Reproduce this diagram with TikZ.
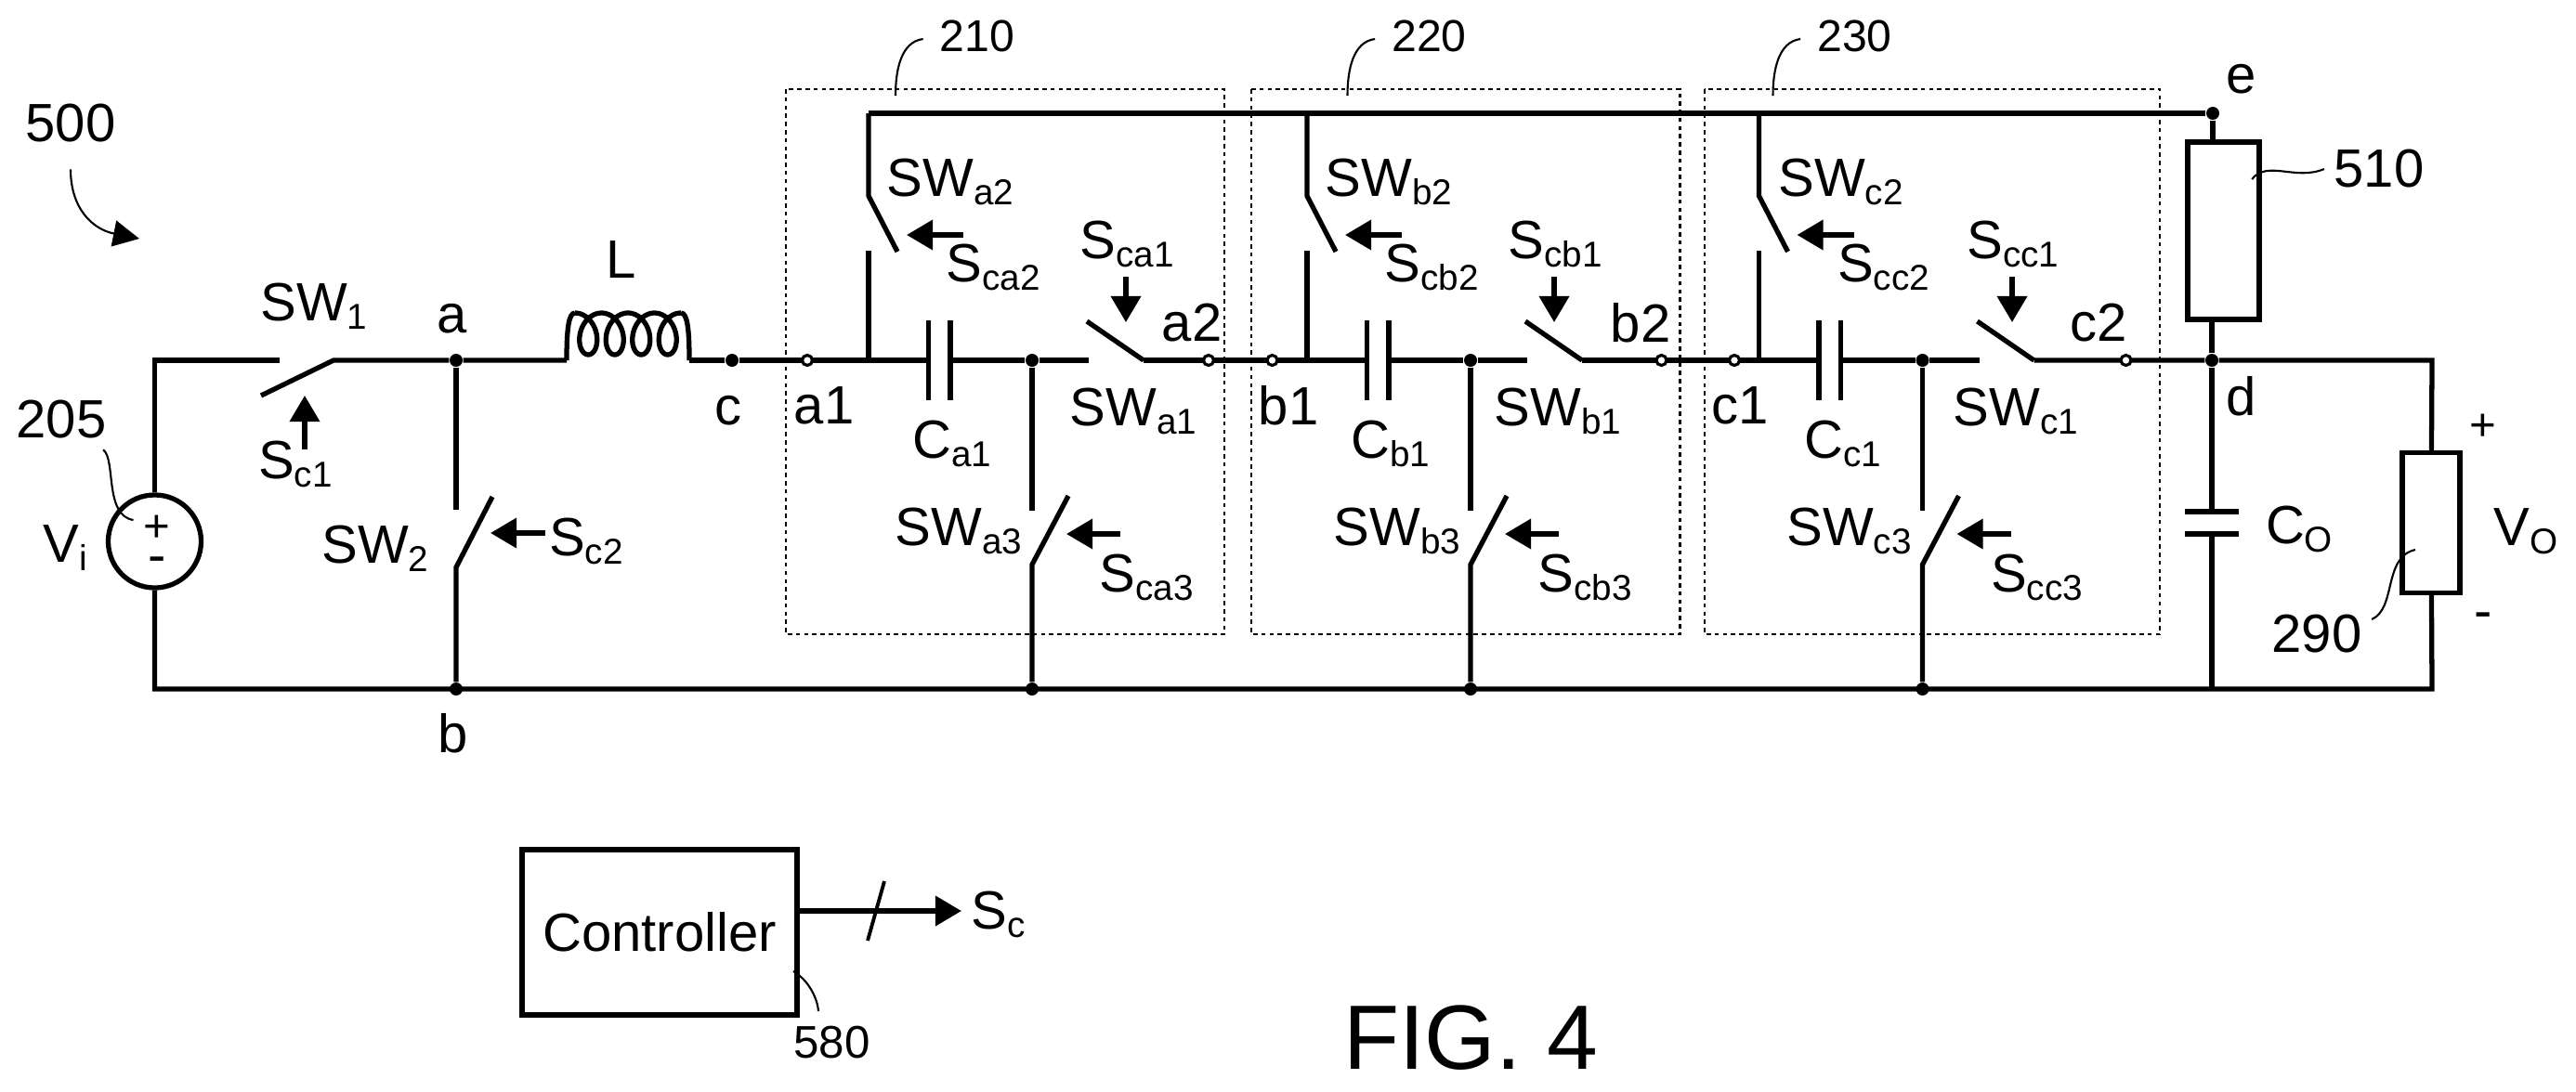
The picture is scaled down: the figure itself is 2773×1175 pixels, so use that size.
\documentclass[tikz,border=0pt]{standalone}
\usepackage{fontspec}
\setmainfont{Liberation Sans}
\usetikzlibrary{arrows.meta}

\newcommand{\lowtxt}[1]{\raisebox{-.15em}{\fontsize{11}{12}\selectfont #1}}

\tikzset{
   wire/.style={line width=1.5pt},
   ctrl/.style={line width=1.5pt,-{Triangle[length=8pt,width=9pt]}},
   lead/.style={line width=.6pt},
   modbox/.style={line width=.6pt,dash pattern=on 1.3pt off 1.2pt},
   dot/.style={circle,fill=black,inner sep=0,minimum size=.14cm},
   tap/.style={circle,draw,fill=white,line width=.9pt,inner sep=0,minimum size=.11cm},
   part/.style={draw,line width=1.5pt,inner sep=0},
   lbl/.style={inner sep=0,font=\fontsize{16.5}{18}\selectfont},
}

\begin{document}
\begin{tikzpicture}[x=.01cm,y=-.01cm]
   \useasboundingbox (0,0) rectangle (2773,1175);

   \node[part,circle,minimum size=1cm] (Vsrc) at (166.5,583) {};
   \node[lbl,font=\fontsize{14}{16}\selectfont] (plus) at (169,569) {+};
   \node[lbl] (minus) at (169,609) {-};
   \node[lbl] (Vi) at (70,590) {V\lowtxt{i}};
   \node[lbl] (n205) at (66,452) {205};
   \node[lbl] (n500) at (76,133) {500};

   \coordinate (tl) at (166.5,388);
   \coordinate (bl) at (166.5,742);
   \coordinate (br) at (2618,742);
   \coordinate (tr) at (2618,388);

   \node[dot] (a) at (491,388) {};
   \node[dot] (b) at (491,742) {};
   \node[dot] (c) at (788,388) {};
   \node[dot] (d) at (2381,388) {};
   \node[dot] (e) at (2382,122) {};
   \node[lbl] (la) at (487,343) {a};
   \node[lbl] (lb) at (488,790) {b};
   \node[lbl] (lc) at (784,442) {c};
   \node[lbl] (ld) at (2413,427) {d};
   \node[lbl] (le) at (2413,85) {e};

   \coordinate (sw1in) at (301,388);
   \coordinate (sw1arm) at (281,426);
   \coordinate (sw1out) at (359,388);
   \node[lbl] (SW1) at (338,330) {SW\lowtxt{1}};
   \node[lbl] (Sc1) at (318,500) {S\lowtxt{c1}};
   \coordinate (sc1a) at (328,484);
   \coordinate (sc1b) at (328,426);

   \coordinate (sw2in) at (491,549);
   \coordinate (sw2arm) at (530,535);
   \coordinate (sw2out) at (491,611);
   \node[lbl] (SW2) at (404,591) {SW\lowtxt{2}};
   \node[lbl] (Sc2) at (631,583) {S\lowtxt{c2}};
   \coordinate (sc2a) at (587,574);
   \coordinate (sc2b) at (528,574);

   \coordinate (Lin) at (610,388);
   \coordinate (Lout) at (742,388);
   \node[lbl] (L) at (669,280) {L};

   \draw[lead] ([xshift=-.04cm,yshift=-.11cm]n205.south east) .. controls (125,495) and (112,555) .. (143.5,560);
   \draw[lead,-{Triangle[length=8pt,width=8pt]}] ([yshift=-.28cm]n500.south) .. controls (76,225) and (100,247) .. (150,257);

   \foreach \m/\off/\bl/\br/\lx/\num/\tin/\tout/\tinx/\toutx/\swx/\scx in {
      a/0/846/1318/964/210/869/1301/887/1283/1220/1213,
      b/472/1347/1808.5/1450.5/220/1369.5/1788.5/1387/1766/1677/1674,
      c/958.5/1835/2325/1908.5/230/1867/2288.5/1873/2259/2170/2167}
   {
      \draw[modbox] (\bl,96) rectangle (\br,683);
      \node[lbl,font=\fontsize{13.7}{15}\selectfont] (num\m) at (\lx+88,39) {\num};
      \coordinate (lead\m) at (\lx,103);
      \draw[lead] ([xshift=-.175cm,yshift=-.03cm]num\m.west) .. controls (\lx+6,45) and (\lx,75) .. (lead\m);

      \coordinate (rail\m) at (\off+935,122);
      \coordinate (sw2a\m) at (\off+935,211);
      \coordinate (arm2\m) at (\off+966,271);
      \coordinate (sw2b\m) at (\off+935,270);
      \coordinate (br\m) at (\off+935,388);
      \coordinate (capl\m) at (\off+999.5,388);
      \coordinate (capr\m) at (\off+1023,388);
      \node[dot] (j\m) at (\off+1111,388) {};
      \node[dot] (bot\m) at (\off+1111,742) {};
      \coordinate (sw1a\m) at (\off+1172,388);
      \coordinate (arm1\m) at (\off+1170,346);
      \coordinate (sw1b\m) at (\off+1231,388);
      \coordinate (sw3a\m) at (\off+1111,550);
      \coordinate (arm3\m) at (\off+1150,534);
      \coordinate (sw3b\m) at (\off+1111,608);

      \draw[wire] (rail\m) -- (sw2a\m) -- (arm2\m);
      \draw[wire] (sw2b\m) -- (br\m);
      \draw[wire] (\off+999.5,345) -- (\off+999.5,431);
      \draw[wire] (\off+1023,345) -- (\off+1023,431);
      \draw[wire] (capr\m) -- (j\m) -- (sw1a\m);
      \draw[wire] (arm1\m) -- (sw1b\m);
      \draw[wire] (j\m) -- (sw3a\m);
      \draw[wire] (arm3\m) -- (sw3b\m) -- (bot\m);

      \draw[ctrl] (\off+1037,253) -- (\off+976,253);
      \draw[ctrl] (\scx-1,298) -- (\scx-1,347);
      \draw[ctrl] (\off+1206,575) -- (\off+1148,575);

      \node[lbl] (SW\m2) at (\off+1023,196) {SW\lowtxt{\m2}};
      \node[lbl] (Sc\m2) at (\off+1069,288) {S\lowtxt{c\m2}};
      \node[lbl] (Sc\m1) at (\scx,263) {S\lowtxt{c\m1}};
      \node[lbl] (SW\m1) at (\swx,443) {SW\lowtxt{\m1}};
      \node[lbl] (C\m1) at (\off+1025,478) {C\lowtxt{\m1}};
      \node[lbl] (SW\m3) at (\off+1032,572) {SW\lowtxt{\m3}};
      \node[lbl] (Sc\m3) at (\off+1234,622) {S\lowtxt{c\m3}};
      \node[lbl] (l\m1) at (\tinx,437) {\m1};
      \node[lbl] (l\m2) at (\toutx,348) {\m2};
      \coordinate (tap\m1) at (\tin,388);
      \coordinate (tap\m2) at (\tout,388);
   }

   \node[part,minimum width=.77cm,minimum height=1.91cm] (R510) at (2393.5,248.5) {};
   \node[part,minimum width=.62cm,minimum height=1.505cm] (Rload) at (2617,563) {};
   \node[lbl] (n510) at (2561,182) {510};
   \node[lbl] (n290) at (2494,683) {290};
   \node[lbl] (Vo) at (2719,572) {V\lowtxt{O}};
   \node[lbl] (Co) at (2475,570) {C\lowtxt{O}};
   \node[lbl,font=\fontsize{14}{16}\selectfont] (pl) at (2673,460) {+};
   \node[lbl] (mi) at (2673,669) {-};

   \coordinate (cot) at (2381,551);
   \coordinate (cob) at (2381,575);
   \coordinate (botd) at (2381,742);
   \coordinate (t510) at (2424,193);
   \coordinate (t290) at (2600,592);

   \draw[wire] (Vsrc) -- (tl) -- (sw1in);
   \draw[wire] (sw1arm) -- (sw1out) -- (a) -- (Lin);
   \draw[wire] (a) -- (sw2in);
   \draw[wire] (sw2arm) -- (sw2out) -- (b);
   \draw[wire] (Vsrc) -- (bl) -- (br) -- (Rload);
   \draw[wire] (Lin) .. controls (610,355) and (612,337) .. (619,337);
   \draw[wire] plot[domain=0:1440,samples=160,smooth] ({619+\x/360*28.5+16*sin(\x)},{359.5-22.5*cos(\x)});
   \draw[wire] (733,337) .. controls (740,337) and (742,355) .. (Lout);
   \draw[wire] (Lout) -- (c) -- (capla);
   \draw[wire] (sw1ba) -- (caplb);
   \draw[wire] (sw1bb) -- (caplc);
   \draw[wire] (sw1bc) -- (d) -- (tr) -- (Rload);
   \draw[wire] (raila) -- (e);
   \draw[wire] (e) -- (e |- R510.north);
   \draw[wire] (d |- R510.south) -- (d);
   \draw[wire] (d) -- (cot);
   \draw[wire] (cob) -- (botd);
   \draw[wire] (2352,551) -- (2410,551);
   \draw[wire] (2352,575) -- (2410,575);

   \draw[ctrl] (sc1a) -- (sc1b);
   \draw[ctrl] (sc2a) -- (sc2b);
   \draw[lead] ([xshift=-.1cm]n510.west) .. controls (2471,195) and (2441,172) .. (t510);
   \draw[lead] ([xshift=.1cm,yshift=.16cm]n290.east) .. controls (2580,655) and (2565,600) .. (t290);

   \foreach \t in {a1,a2,b1,b2,c1,c2}
   \node[tap] at (tap\t) {};

   \node[part,minimum width=2.96cm,minimum height=1.78cm,font=\fontsize{16.5}{18}\selectfont] (Ctl) at (710,1004) {Controller};
   \node[lbl] (Sc) at (1075,985) {S\lowtxt{c}};
   \node[lbl,font=\fontsize{14}{16}\selectfont] (n580) at (895.5,1123) {580};
   \node[lbl,font=\fontsize{28}{30}\selectfont] (fig) at (1583,1118) {FIG. 4};
   \coordinate (ctlout) at (858,981);
   \coordinate (Scin) at (1035,981);
   \coordinate (sl1) at (952,949);
   \coordinate (sl2) at (934,1013);
   \coordinate (t580a) at (854,1046);
   \coordinate (t580b) at (881,1089);
   \draw[ctrl] (ctlout) -- (Scin);
   \draw[line width=1.1pt] (sl1) -- (sl2);
   \draw[lead] (t580a) .. controls (870,1055) and (880,1075) .. (t580b);
\end{tikzpicture}
\end{document}
